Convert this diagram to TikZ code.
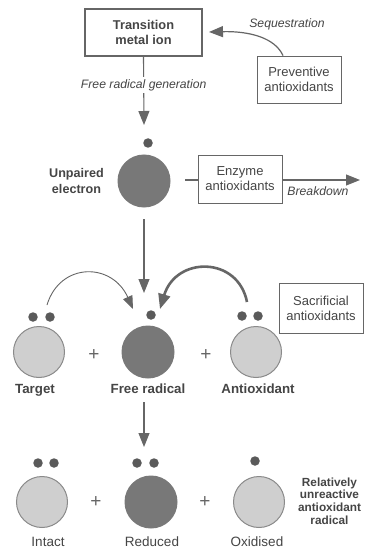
\documentclass[tikz,border=0pt]{standalone}
\usepackage{fontspec}
\setmainfont{Liberation Sans}
\usetikzlibrary{arrows.meta}
\definecolor{ln}{HTML}{666666}
\definecolor{tx}{HTML}{454545}
\definecolor{dk}{HTML}{787878}
\definecolor{lt}{HTML}{CFCFCF}
\definecolor{ltb}{HTML}{8A8A8A}
\definecolor{dt}{HTML}{5A5A5A}
\begin{document}
\begin{tikzpicture}[x=1pt,y=-1pt,
  every node/.style={text=tx, font=\fontsize{12}{15}\selectfont, inner sep=0pt},
  box/.style={draw=ln, line width=0.9pt, align=center, minimum width=84pt, minimum height=48pt, font=\fontsize{13}{15}\selectfont},
  thickbox/.style={box, line width=2.2pt, minimum width=117pt, minimum height=47pt, font=\fontsize{12.8}{15}\selectfont\bfseries},
  dark/.style={circle, fill=dk, minimum size=53pt},
  light/.style={circle, fill=lt, draw=ltb, line width=1pt, minimum size=51pt},
  edot/.style={circle, fill=dt, minimum size=9.5pt},
  lab/.style={font=\fontsize{13.3}{16}\selectfont\bfseries, align=center},
  low/.style={font=\fontsize{13.5}{16}\selectfont},
  ital/.style={font=\fontsize{12.2}{15}\selectfont\itshape},
  plus/.style={font=\fontsize{19}{19}\selectfont, text=ln},
  arr/.style={draw=ln, line width=1.1pt, -{Triangle[length=14pt,width=11pt]}},
  thinarr/.style={draw=ln, line width=0.9pt, -{Triangle[length=13pt,width=10pt]}},
  thickarr/.style={draw=ln, line width=2.6pt, -{Triangle[length=15pt,width=12pt]}},
  ln/.style={draw=ln, line width=1.1pt}
]
\useasboundingbox[fill=white] (0,0) rectangle (364,548);

% top
\node[thickbox] (metal) at (143.5,32.5) {Transition\\metal ion};
\node[ital] (seq) at (287,24) {Sequestration};
\node[box, minimum height=47pt] (prev) at (299,79.5) {Preventive\\antioxidants};
\coordinate (seqend) at (209,32);
\draw[arr, line width=1.2pt] ([xshift=-16pt]prev.north) .. controls (275,38) and (250,31) .. (seqend);

\coordinate (t1) at (144,125);
\draw[arr] (metal.south) -- node[pos=0.41, ital, fill=white, inner sep=2.5pt] {Free radical generation} (t1);

% unpaired
\node[edot] (ud) at (148,143) {};
\node[dark] (unp) at (144,181) {};
\node[lab, font=\fontsize{12.6}{16}\selectfont\bfseries] (unpl) at (76.5,181) {Unpaired\\electron};
\node[box] (enz) at (240,179) {Enzyme\\antioxidants};
\coordinate (ls) at (185,180);
\draw[ln] (ls) -- (enz.west |- ls);
\coordinate (bd) at (360,180);
\draw[arr] (enz.east |- bd) -- (bd);
\node[ital] (bdl) at (318,191) {Breakdown};

\coordinate (v2s) at (144,219);
\coordinate (v2e) at (144,293);
\draw[arr] (v2s) -- (v2e);

% row 2
\node[light] (tg) at (39,352) {};
\node[edot] (tgd1) at (33,317) {};
\node[edot] (tgd2) at (50,317) {};
\node[dark] (fr) at (148,352) {};
\node[edot] (frd) at (151,315) {};
\node[light] (ao) at (256,352) {};
\node[edot] (aod1) at (242,316) {};
\node[edot] (aod2) at (258,316) {};
\node[plus] (p1) at (94,355) {+};
\node[plus] (p2) at (206,355) {+};
\node[lab, anchor=base] (tgl) at (35,393) {Target};
\node[lab, anchor=base] (frl) at (148,393) {Free radical};
\node[lab, anchor=base] (aol) at (258,393) {Antioxidant};
\node[box, minimum height=50pt] (sac) at (321,308) {Sacrificial\\antioxidants};

\coordinate (ta) at (47,305);
\coordinate (tb) at (133,309);
\draw[thinarr] (ta) .. controls (60,262) and (112,262) .. (tb);
\coordinate (ka) at (247,302);
\coordinate (kb) at (160,309);
\draw[thickarr] (ka) .. controls (238,256) and (176,256) .. (kb);

\coordinate (v3s) at (144,402);
\coordinate (v3e) at (144,447);
\draw[arr] (v3s) -- (v3e);

% row 3
\node[light] (it) at (42,502) {};
\node[edot] (itd1) at (38,463) {};
\node[edot] (itd2) at (54,463) {};
\node[dark] (rd) at (151,502) {};
\node[edot] (rdd1) at (137,463) {};
\node[edot] (rdd2) at (154,463) {};
\node[light] (ox) at (259,502) {};
\node[edot] (oxd) at (255,461) {};
\node[plus] (p3) at (96,502) {+};
\node[plus] (p4) at (205,502) {+};
\node[low, anchor=base] (itl) at (48,546) {Intact};
\node[low, anchor=base] (rdl) at (152,546) {Reduced};
\node[low, anchor=base] (oxl) at (257,546) {Oxidised};
\node[align=center, font=\fontsize{11.8}{12.8}\selectfont\bfseries] (rel) at (329.5,501) {Relatively\\unreactive\\antioxidant\\radical};
\end{tikzpicture}
\end{document}
